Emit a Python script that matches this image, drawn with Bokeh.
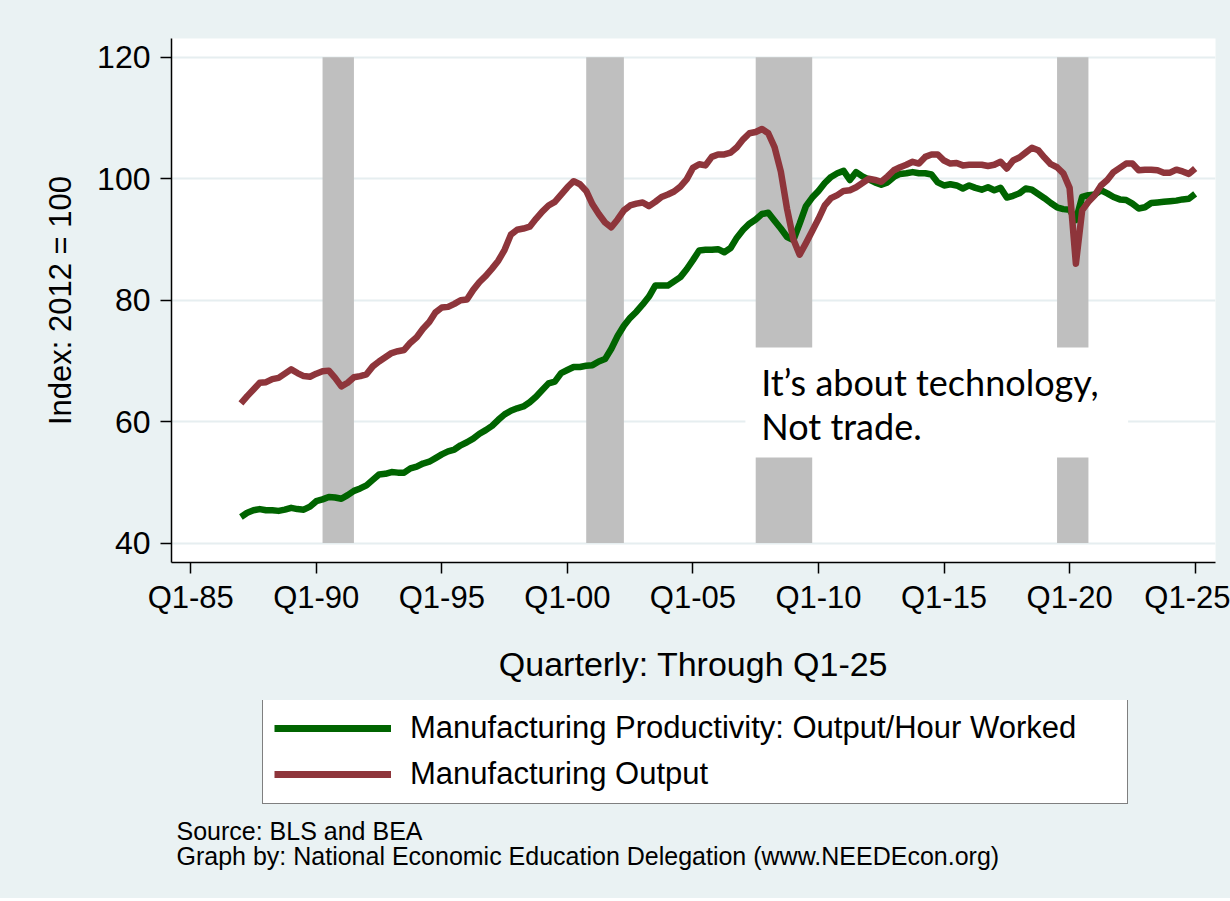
from bokeh.plotting import figure
from bokeh.layouts import column
from bokeh.models import (Range1d, FixedTicker, Legend, LegendItem, Label,
                          BoxAnnotation, ColumnDataSource)
from bokeh.embed import file_html
from bokeh.resources import INLINE

# ---------------- data ----------------
quarters = [f"{yr}Q{q}" for yr in range(1987, 2026) for q in range(1, 5)][:153]

productivity = [
    44.3, 45.0, 45.4, 45.6,  45.4, 45.4, 45.3, 45.5,  45.8, 45.6, 45.5, 46.0,   # 87-89
    46.9, 47.2, 47.6, 47.5,  47.3, 47.9, 48.6, 49.0,  49.5, 50.4, 51.3, 51.4,   # 90-92
    51.7, 51.6, 51.6, 52.3,  52.6, 53.1, 53.4, 54.0,  54.6, 55.1, 55.4, 56.1,   # 93-95
    56.6, 57.2, 58.0, 58.6,  59.3, 60.3, 61.2, 61.8,  62.2, 62.5, 63.2, 64.1,   # 96-98
    65.2, 66.3, 66.6, 68.0,  68.5, 69.0, 69.0, 69.2,  69.3, 69.9, 70.3, 72.0,   # 99-01
    74.1, 75.8, 77.1, 78.1,  79.3, 80.6, 82.4, 82.4,  82.4, 83.1, 83.8, 85.1,   # 02-04
    86.6, 88.2, 88.3, 88.3,  88.4, 87.9, 88.6, 90.3,  91.6, 92.6, 93.3, 94.2,   # 05-07
    94.4, 93.1, 91.8, 90.4,  89.9, 92.6, 95.5, 96.9,  98.0, 99.3, 100.3, 100.9, # 08-10
    101.3, 99.8, 101.1, 100.4, 99.9, 99.4, 99.0, 99.4, 100.3, 100.8, 100.9, 101.1,  # 11-13
    100.9, 100.9, 100.7, 99.4, 98.9, 99.1, 98.9, 98.4,  98.9, 98.5, 98.2, 98.6,  # 14-16
    98.1, 98.5, 96.9, 97.2,  97.6, 98.4, 98.2, 97.5,  96.8, 96.0, 95.3, 95.0,   # 17-19
    94.9, 93.2, 97.0, 97.3,  97.4, 98.1, 97.6, 97.0,  96.6, 96.5, 95.9, 95.1,   # 20-22
    95.3, 96.0, 96.1, 96.2,  96.3, 96.4, 96.6, 96.7,  97.5,                     # 23-25Q1
]

output = [
    63.0, 64.2, 65.3, 66.4,  66.5, 67.0, 67.2, 67.9,  68.6, 68.0, 67.5, 67.4,   # 87-89
    67.9, 68.3, 68.4, 67.2,  65.8, 66.4, 67.3, 67.5,  67.8, 69.1, 69.9, 70.6,   # 90-92
    71.3, 71.6, 71.8, 73.0,  73.9, 75.3, 76.4, 78.0,  78.8, 78.9, 79.4, 80.0,   # 93-95
    80.1, 81.7, 83.0, 84.0,  85.2, 86.5, 88.3, 90.8,  91.6, 91.8, 92.1, 93.4,   # 96-98
    94.6, 95.6, 96.2, 97.4,  98.6, 99.6, 99.1, 98.0,  95.8, 94.2, 92.8, 92.0,   # 99-01
    93.3, 94.8, 95.6, 95.9,  96.1, 95.5, 96.2, 97.0,  97.4, 97.9, 98.7, 99.9,   # 02-04
    101.8, 102.4, 102.2, 103.6, 104.0, 104.0, 104.3, 105.2, 106.5, 107.5, 107.7, 108.2,  # 05-07
    107.5, 105.2, 101.2, 95.0, 90.0, 87.5, 89.4, 91.4,  93.4, 95.6, 96.8, 97.3,  # 08-10
    98.0, 98.1, 98.6, 99.3,  100.0, 99.8, 99.5, 100.4, 101.4, 101.9, 102.3, 102.8,  # 11-13
    102.5, 103.6, 104.0, 104.0, 103.0, 102.5, 102.6, 102.2, 102.3, 102.3, 102.3, 102.1,  # 14-16
    102.3, 102.8, 101.7, 103.0, 103.5, 104.3, 105.1, 104.7, 103.5, 102.4, 101.9, 100.9,  # 17-19
    98.5, 86.0, 94.8, 96.2,  97.3, 98.9, 99.8, 101.1,  101.8, 102.5, 102.5, 101.4,  # 20-22
    101.5, 101.5, 101.4, 101.0, 101.0, 101.5, 101.2, 100.8, 101.7,             # 23-25Q1
]

recession_start = [1990.25, 2000.75, 2007.5, 2019.5]
recession_end = [1991.5, 2002.25, 2009.75, 2020.75]

tick_years = [1985, 1990, 1995, 2000, 2005, 2010, 2015, 2020, 2025]
tick_labels = ["Q1-85", "Q1-90", "Q1-95", "Q1-00", "Q1-05", "Q1-10", "Q1-15", "Q1-20", "Q1-25"]
y_ticks = [40, 60, 80, 100, 120]

series_names = ["Manufacturing Productivity: Output/Hour Worked", "Manufacturing Output"]
series_colors = ["#006400", "#8E353B"]
note_lines = ["Source: BLS and BEA",
              "Graph by: National Economic Education Delegation (www.NEEDEcon.org)"]

# ---------------- main figure ----------------
x = [int(q[:4]) + (int(q[5]) - 1) / 4 for q in quarters]
FONT = "Liberation Sans"
BG = "#EAF2F3"
W, H1, H2 = 1230, 700, 198
LEFT, RIGHT = 171, 15

p = figure(width=W, height=H1, output_backend="svg", toolbar_location=None,
           x_range=Range1d(1984.235, 2025.81), y_range=Range1d(36.8, 123.1),
           background_fill_color="white", border_fill_color=BG,
           min_border_left=LEFT, min_border_right=RIGHT, min_border_top=38,
           min_border_bottom=H1 - 562)
p.outline_line_color = None

p.xgrid.visible = False
p.ygrid.ticker = FixedTicker(ticks=y_ticks)
p.ygrid.grid_line_color = "#E6EEF0"
p.ygrid.grid_line_width = 2

# recession shading
p.quad(left=recession_start, right=recession_end, bottom=40, top=120,
       fill_color="#BFBFBF", line_color=None)

# white text box with annotation
p.add_layout(BoxAnnotation(left=2007.09, right=2022.33, bottom=54.1, top=72.2,
                           fill_color="white", fill_alpha=1.0, line_color=None))
p.add_layout(Label(x=2007.72, y=66.6, text="It’s about technology,",
                   text_font="Lato", text_font_size="36px", text_color="black",
                   text_baseline="middle"))
p.add_layout(Label(x=2007.72, y=59.35, text="Not trade.",
                   text_font="Lato", text_font_size="36px", text_color="black",
                   text_baseline="middle"))

# series
src = ColumnDataSource(dict(x=x, prod=productivity, out=output))
p.line("x", "prod", source=src, line_color=series_colors[0], line_width=6.5,
       line_join="round")
p.line("x", "out", source=src, line_color=series_colors[1], line_width=6.5,
       line_join="round")

for ax in (p.xaxis[0], p.yaxis[0]):
    ax.axis_line_color = "black"
    ax.axis_line_width = 1.5
    ax.major_tick_line_color = "black"
    ax.major_tick_line_width = 1.5
    ax.major_tick_out = 11
    ax.major_tick_in = 0
    ax.minor_tick_line_color = None
    ax.major_label_text_font = FONT
    ax.major_label_text_color = "black"
    ax.axis_label_text_font = FONT
    ax.axis_label_text_font_style = "normal"
    ax.axis_label_text_color = "black"

p.xaxis.ticker = FixedTicker(ticks=tick_years)
p.xaxis.major_label_overrides = {t: l for t, l in zip(tick_years, tick_labels)}
p.xaxis.major_label_text_font_size = "31px"
p.xaxis.major_label_standoff = 6
p.xaxis.axis_label = "Quarterly: Through Q1-25"
p.xaxis.axis_label_text_font_size = "34px"
p.xaxis.axis_label_standoff = 27

p.yaxis.ticker = FixedTicker(ticks=y_ticks)
p.yaxis.major_label_orientation = "horizontal"
p.yaxis.major_label_text_font_size = "32px"
p.yaxis.major_label_standoff = 10
p.yaxis.axis_label = "Index: 2012 = 100"
p.yaxis.axis_label_text_font_size = "31px"
p.yaxis.axis_label_standoff = 16

# ---------------- bottom panel: legend + notes ----------------
q = figure(width=W, height=H2, output_backend="svg", toolbar_location=None,
           x_range=Range1d(0, 1), y_range=Range1d(0, 1),
           background_fill_color=BG, border_fill_color=BG,
           min_border_left=LEFT, min_border_right=RIGHT,
           min_border_top=0, min_border_bottom=0,
           x_axis_type=None, y_axis_type=None)
q.outline_line_color = None
q.grid.visible = False

nan = float("nan")
k1 = q.line(x=[nan], y=[nan], line_color=series_colors[0], line_width=7)
k2 = q.line(x=[nan], y=[nan], line_color=series_colors[1], line_width=7)

legend = Legend(items=[LegendItem(label=series_names[0], renderers=[k1]),
                       LegendItem(label=series_names[1], renderers=[k2])],
                location=(262 - LEFT, 94), orientation="vertical",
                border_line_color="black", border_line_width=1.5,
                background_fill_color="white", background_fill_alpha=1.0,
                label_text_font=FONT, label_text_font_size="31px",
                label_text_color="black", glyph_width=117, glyph_height=34,
                label_height=34, label_width=706, label_standoff=19,
                padding=11, spacing=10, margin=0)
q.add_layout(legend)

q.add_layout(Label(x=176 - LEFT, y=68, x_units="screen", y_units="screen",
                   text=note_lines[0], text_font=FONT, text_font_size="25px",
                   text_color="black", text_baseline="middle"))
q.add_layout(Label(x=176 - LEFT, y=43, x_units="screen", y_units="screen",
                   text=note_lines[1], text_font=FONT, text_font_size="25px",
                   text_color="black", text_baseline="middle"))

layout = column(p, q, spacing=0, styles={"background-color": BG})
open("out.html", "w").write(file_html(layout, INLINE))
